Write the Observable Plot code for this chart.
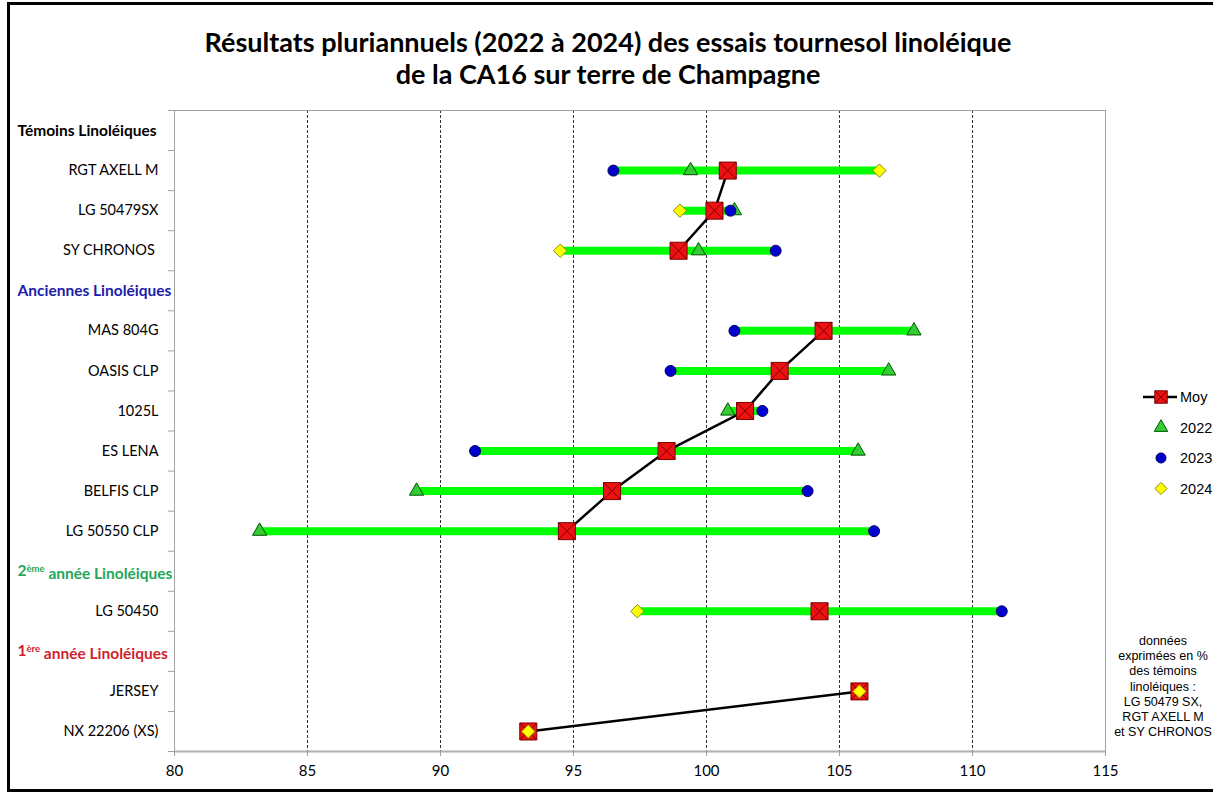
<!DOCTYPE html>
<html>
<head>
<meta charset="utf-8">
<script src="https://cdn.jsdelivr.net/npm/d3@7"></script>
<script src="https://cdn.jsdelivr.net/npm/@observablehq/plot@0.6"></script>
<style>
  body { margin: 0; background: #fff; width: 1213px; height: 793px; overflow: hidden; position: relative; }
  #border { position: absolute; left: 7px; top: 2px; width: 1220px; height: 790px; border: 3px solid #000; border-right: none; box-sizing: border-box; }
  #title { position: absolute; left: 0; top: 26px; width: 1216px; text-align: center; font-family: Lato, "Open Sans", sans-serif; font-weight: bold; font-size: 27px; line-height: 32px; color: #000; }
  #chart { position: absolute; left: 0; top: 100px; }
  #legend { position: absolute; left: 1130px; top: 380px; }
  #note { position: absolute; left: 1103px; top: 634px; width: 120px; text-align: center; font-family: "Liberation Sans", Arial, sans-serif; font-size: 12.5px; line-height: 15.2px; color: #000; }
</style>
</head>
<body>
<div id="border"></div>
<div id="title">Résultats pluriannuels (2022 à 2024) des essais tournesol linoléique<br>de la CA16 sur terre de Champagne</div>
<div id="chart"></div>
<svg id="legend" width="83" height="125"></svg>
<div id="note">données<br>exprimées en %<br>des témoins<br>linoléiques :<br>LG 50479 SX,<br>RGT AXELL M<br>et SY CHRONOS</div>
<script>
// ---- Data ----
const rows = ["Témoins Linoléiques", "RGT AXELL M", "LG 50479SX", "SY CHRONOS ", "Anciennes Linoléiques",
  "MAS 804G", "OASIS CLP", "1025L", "ES LENA", "BELFIS CLP", "LG 50550 CLP",
  "2ème année Linoléiques", "LG 50450", "1ère année Linoléiques", "JERSEY", "NX 22206 (XS)"];
const headers = ["Témoins Linoléiques", "Anciennes Linoléiques", "2ème année Linoléiques", "1ère année Linoléiques"];
const headerColors = ["#000000", "#1c1ca8", "#1fa65a", "#d01f2e"];
const varieties = ["RGT AXELL M", "LG 50479SX", "SY CHRONOS ", "MAS 804G", "OASIS CLP", "1025L", "ES LENA",
  "BELFIS CLP", "LG 50550 CLP", "LG 50450", "JERSEY", "NX 22206 (XS)"];
const groups = ["Témoins", "Témoins", "Témoins", "Anciennes", "Anciennes", "Anciennes", "Anciennes",
  "Anciennes", "Anciennes", "2ème année", "1ère année", "1ère année"];
const moy   = [100.8, 100.3, 98.95, 104.4, 102.75, 101.45, 98.5, 96.45, 94.75, 104.25, 105.75, 93.3];
const v2022 = [99.4, 101.05, 99.7, 107.8, 106.85, 100.8, 105.7, 89.1, 83.2, null, null, null];
const v2023 = [96.5, 100.9, 102.6, 101.05, 98.65, 102.1, 91.3, 103.8, 106.3, 111.1, null, null];
const v2024 = [106.5, 99.0, 94.5, null, null, null, null, null, null, 97.4, 105.75, 93.3];
const xTicks = [80, 85, 90, 95, 100, 105, 110, 115];
const gridTicks = [85, 90, 95, 100, 105, 110];

// ---- Tables ----
const idxOf = name => rows.indexOf(name);
const table = varieties.map((v, i) => ({
  name: v, idx: idxOf(v), group: groups[i], moy: moy[i],
  y2022: v2022[i], y2023: v2023[i], y2024: v2024[i]
}));
const ranges = table.map(d => {
  const vals = [d.y2022, d.y2023, d.y2024].filter(v => v != null);
  return {idx: d.idx, lo: d3.min(vals), hi: d3.max(vals), n: vals.length};
}).filter(d => d.n > 1);
const pts = key => table.filter(d => d[key] != null).map(d => ({idx: d.idx, v: d[key]}));
const headerData = headers.map((h, i) => ({name: h, idx: idxOf(h), color: headerColors[i]}));
const labelIdx = varieties.map(idxOf);
const boundaries = d3.range(-0.5, rows.length, 1);

const squareX = {
  draw(ctx, size) {
    const s = Math.sqrt(size) / 2;
    ctx.moveTo(-s, -s); ctx.lineTo(s, -s); ctx.lineTo(s, s); ctx.lineTo(-s, s); ctx.closePath();
    ctx.moveTo(-s, -s); ctx.lineTo(s, s);
    ctx.moveTo(s, -s); ctx.lineTo(-s, s);
  }
};

const styles = {
  moy: {fill: "#ee1111", stroke: "#7a0000"},
  y2022: {fill: "#33cc33", stroke: "#005500"},
  y2023: {fill: "#0000cc", stroke: "#000066"},
  y2024: {fill: "#ffff00", stroke: "#8a8a00"}
};

const chart = Plot.plot({
  width: 1213,
  height: 693,
  marginLeft: 174,
  marginRight: 108,
  marginTop: 10,
  marginBottom: 42,
  x: {domain: [80, 115], label: null},
  y: {domain: [-0.5, rows.length - 0.5], reverse: true, label: null},
  color: {type: "identity"},
  style: {fontFamily: "Lato, 'Open Sans', sans-serif", fontSize: "14px", color: "#000", background: "transparent", overflow: "visible"},
  marks: [
    Plot.ruleX(gridTicks, {stroke: "#333", strokeDasharray: "3,2", strokeWidth: 1}),
    Plot.ruleY([-0.5], {stroke: "#a0a0a0", strokeWidth: 1}),
    Plot.ruleX([115], {stroke: "#a0a0a0", strokeWidth: 1}),
    Plot.ruleX([80], {stroke: "#a0a0a0", strokeWidth: 1}),
    Plot.ruleY([rows.length - 0.5], {stroke: "#b0b0b0", strokeWidth: 2}),
    Plot.axisY({ticks: boundaries, tickSize: 6, tickFormat: () => "", stroke: "#a0a0a0", label: null}),
    Plot.axisY({ticks: labelIdx, tickSize: 0, tickPadding: 16, tickFormat: i => rows[i], fontSize: 14.5, label: null}),
    Plot.text(headerData, {y: "idx", text: "name", frameAnchor: "left", textAnchor: "start", dx: -157, fill: "color", fontWeight: "bold", fontSize: 15.5}),
    Plot.axisX({ticks: xTicks, tickSize: 5, tickPadding: 9, stroke: "#a0a0a0", fontSize: 15, label: null}),
    Plot.ruleY(ranges, {y: "idx", x1: "lo", x2: "hi", stroke: "#00ff00", strokeWidth: 8}),
    Plot.line(table, {x: "moy", y: "idx", z: "group", stroke: "#000", strokeWidth: 2.5}),
    Plot.dot(table, {x: "moy", y: "idx", symbol: squareX, r: 9.6, ...styles.moy, strokeWidth: 1}),
    Plot.dot(pts("y2022"), {x: "v", y: "idx", symbol: "triangle", r: 5.3, ...styles.y2022, strokeWidth: 1}),
    Plot.dot(pts("y2023"), {x: "v", y: "idx", symbol: "circle", r: 5.5, ...styles.y2023, strokeWidth: 1}),
    Plot.dot(pts("y2024"), {x: "v", y: "idx", symbol: "diamond2", r: 6, ...styles.y2024, strokeWidth: 1})
  ]
});
document.getElementById("chart").appendChild(chart);

// superscripts in group headers
d3.select(chart).selectAll("text").each(function() {
  const t = this.textContent;
  const m = t.match(/^(\d)(ème|ère)( .*)$/);
  if (m) {
    const sel = d3.select(this);
    sel.text(null);
    sel.append("tspan").text(m[1]);
    sel.append("tspan").attr("font-size", 9.5).attr("dy", "-0.45em").text(m[2]);
    sel.append("tspan").attr("dy", "0.45em").text(m[3]);
  }
});

// ---- Legend ----
const legendItems = [
  {label: "Moy", key: "moy", sym: squareX, size: Math.PI * 7 * 7, line: true},
  {label: "2022", key: "y2022", sym: d3.symbolTriangle, size: Math.PI * 5 * 5},
  {label: "2023", key: "y2023", sym: d3.symbolCircle, size: Math.PI * 5 * 5},
  {label: "2024", key: "y2024", sym: d3.symbolDiamond2, size: Math.PI * 5.5 * 5.5}
];
const lg = d3.select("#legend");
legendItems.forEach((it, i) => {
  const cy = 17 + i * 30.5;
  const g = lg.append("g").attr("transform", `translate(0,${cy})`);
  if (it.line) g.append("line").attr("x1", 13).attr("x2", 47).attr("stroke", "#000").attr("stroke-width", 2.5);
  g.append("path").attr("transform", "translate(31,0)")
    .attr("d", d3.symbol(it.sym, it.size)())
    .attr("fill", styles[it.key].fill).attr("stroke", styles[it.key].stroke).attr("stroke-width", 1);
  g.append("text").attr("x", 50).attr("dy", "0.35em")
    .attr("font-family", "'Liberation Sans', Arial, sans-serif").attr("font-size", 14.5).text(it.label);
});
</script>
</body>
</html>
